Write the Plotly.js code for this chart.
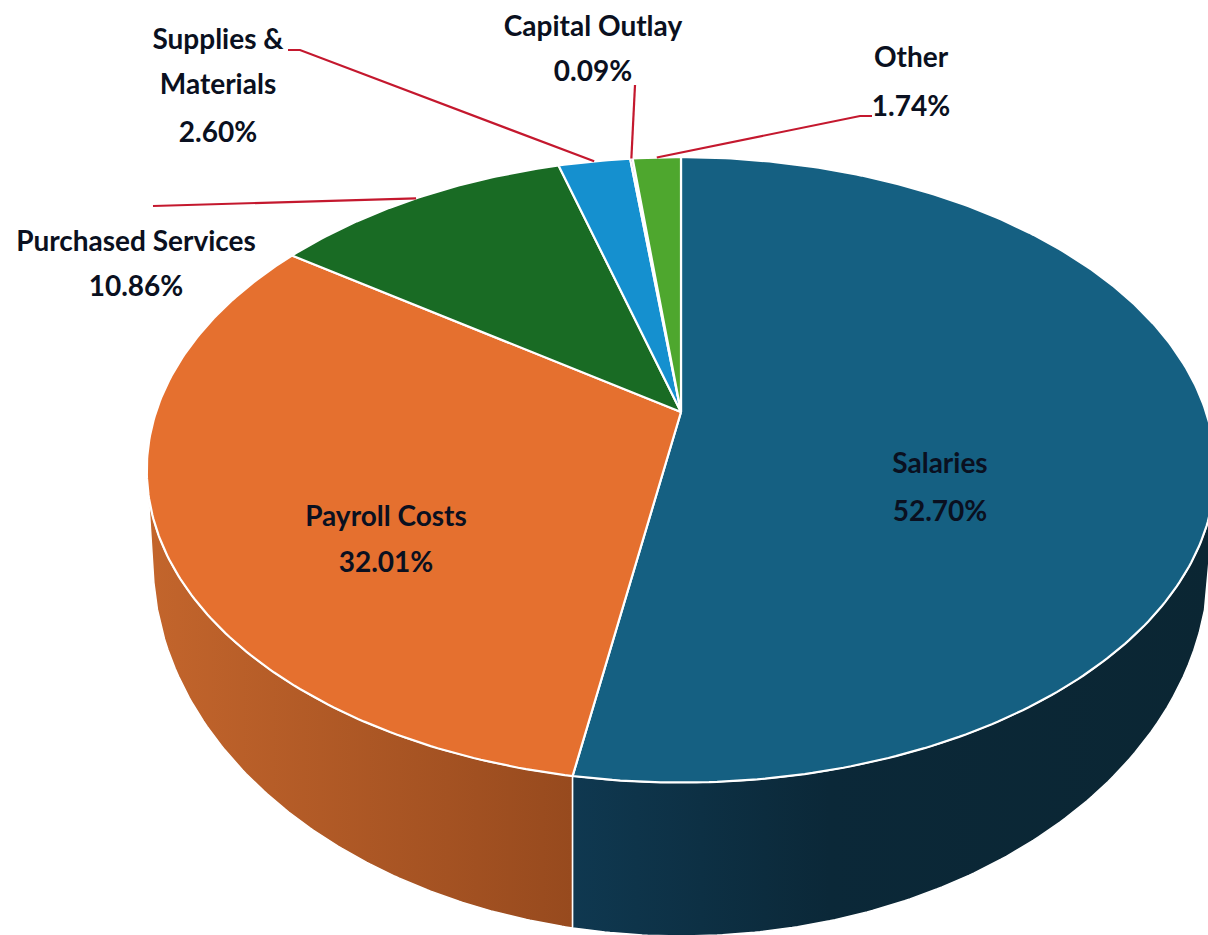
<!DOCTYPE html>
<html><head><meta charset="utf-8">
<script src="https://cdn.plot.ly/plotly-3.0.1.min.js"></script>
<style>html,body{margin:0;padding:0;background:#fff;overflow:hidden}</style>
</head><body><div id="chart" style="width:1208px;height:935px"></div>
<script>
// Data
var categories = ["Salaries","Payroll Costs","Purchased Services","Supplies & Materials","Capital Outlay","Other"];
var shares = [52.70,32.01,10.86,2.60,0.09,1.74];
var sliceColors = ["#156082","#E5702F","#196B24","#1590CF","#A02B93","#4EA72E"];

// Label text lines and where they sit
var labelLines = [["Salaries"],["Payroll Costs"],["Purchased Services"],["Supplies &","Materials"],["Capital Outlay"],["Other"]];
var labelX = [940,386,136,218,593,911];
var labelY = [[466,514],[519,565],[244,289],[42,87,135],[29,74],[60,109]];
var labelColor = "#0A1020";
var labelFont = "Lato";
// Leader line outer points, null when the label is inside
var leaderOuter = [null,null,[[153,206]],[[288,50],[300,50]],[[635,85]],[[872,116],[860,116]]];

// Projection of the tilted disc
var apexX=681, apexY=412, A=525, B=302, K=0.185;
var lowerCy=561, lowerRx=528, lowerRy=375;
function discPoint(t){var u=Math.sin(t),v=Math.cos(t),d=1+K*v;return [apexX+A*u/d, apexY-B*v/d];}
function lowerAt(x){var r=(x-apexX)/lowerRx;r=Math.max(-1,Math.min(1,r));return lowerCy+lowerRy*Math.sqrt(1-r*r);}
var rad=Math.PI/180;
var edges=[0];shares.forEach(function(s,i){edges.push(edges[i]+s);});
function ang(p){return p*3.6*rad;}

var traces=[];
function sidePoly(t0,t1,scale){
  var xs=[],ys=[],n=120,i,t,p;
  for(i=0;i<=n;i++){t=t0+(t1-t0)*i/n;p=discPoint(t);xs.push(p[0]);ys.push(p[1]);}
  var xa=xs[xs.length-1],xb=xs[0];
  for(i=0;i<=n;i++){var x=xa+(xb-xa)*i/n;
    var lim=Math.max(apexX-lowerRx,Math.min(apexX+lowerRx,x));
    xs.push(lim);ys.push(lowerAt(lim));}
  xs.push(xs[0]);ys.push(ys[0]);
  traces.push({type:"scatter",mode:"lines",x:xs,y:ys,fill:"toself",hoverinfo:"skip",
    line:{color:"#ffffff",width:1.5},
    fillgradient:{type:"horizontal",colorscale:scale}});
}
var rightTurn=Math.acos(-K), leftTurn=2*Math.PI-rightTurn;
sidePoly(ang(edges[1]),leftTurn,[[0,"#C3652C"],[1,"#974A1E"]]);
sidePoly(rightTurn,ang(edges[1]),[[0,"#0F3850"],[0.4,"#0B2838"],[1,"#0B2633"]]);

categories.forEach(function(name,i){
  var xs=[apexX],ys=[apexY],t0=ang(edges[i]),t1=ang(edges[i+1]),n=Math.max(4,Math.ceil(shares[i]*5));
  for(var j=0;j<=n;j++){var p=discPoint(t0+(t1-t0)*j/n);xs.push(p[0]);ys.push(p[1]);}
  xs.push(apexX);ys.push(apexY);
  traces.push({type:"scatter",mode:"lines",name:name,x:xs,y:ys,fill:"toself",fillcolor:sliceColors[i],
    line:{color:"#ffffff",width:2.2},hovertemplate:name+": "+shares[i].toFixed(2)+"%<extra></extra>"});
});

categories.forEach(function(name,i){
  if(!leaderOuter[i])return;
  var p=discPoint(ang((edges[i]+edges[i+1])/2));
  var xs=[p[0]],ys=[p[1]];
  leaderOuter[i].slice().reverse().forEach(function(q){xs.push(q[0]);ys.push(q[1]);});
  traces.push({type:"scatter",mode:"lines",x:xs,y:ys,hoverinfo:"skip",line:{color:"#C4182E",width:2.2}});
});

var tx=[],ty=[],tt=[];
categories.forEach(function(name,i){
  labelLines[i].concat([shares[i].toFixed(2)+"%"]).forEach(function(s,j){
    tx.push(labelX[i]);ty.push(labelY[i][j]);tt.push(s);
  });
});
traces.push({type:"scatter",mode:"text",x:tx,y:ty,text:tt,textposition:"middle center",hoverinfo:"skip",
  textfont:{family:labelFont,size:28,color:labelColor,weight:700}});

var axis={visible:false,fixedrange:true,showgrid:false,zeroline:false};
Plotly.newPlot("chart",traces,{
  width:1208,height:935,margin:{l:0,r:0,t:0,b:0},showlegend:false,
  paper_bgcolor:"#ffffff",plot_bgcolor:"#ffffff",
  xaxis:Object.assign({range:[0,1208]},axis),
  yaxis:Object.assign({range:[935,0]},axis)
},{displayModeBar:false});
</script></body></html>
